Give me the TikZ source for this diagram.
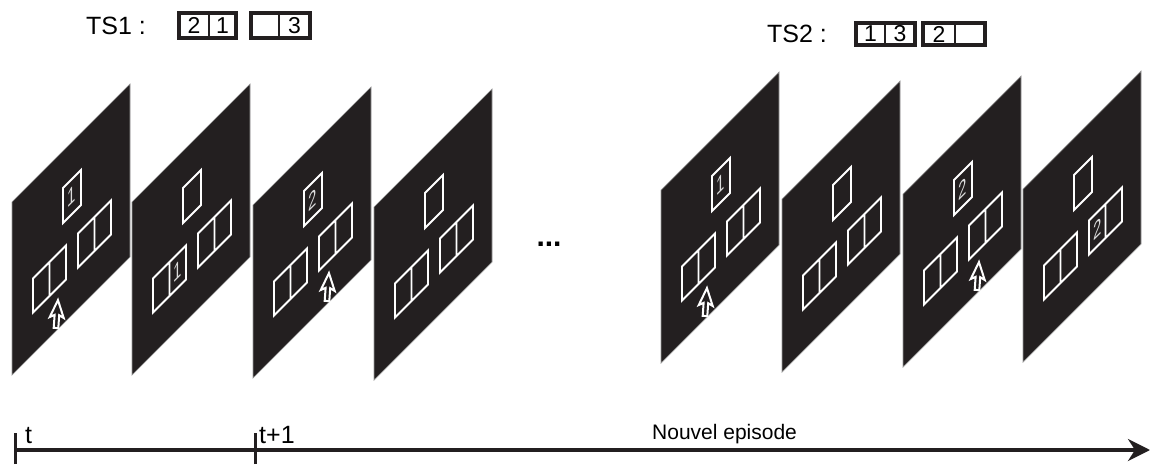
\documentclass[tikz,border=0pt]{standalone}
\usepackage{fontspec}
\setmainfont{Liberation Sans}
\usetikzlibrary{arrows.meta}
\definecolor{panelfill}{HTML}{231F20}
\definecolor{digitgray}{HTML}{DCDCDC}
\tikzset{
  sheet/.style={fill=panelfill, draw=black!40, line width=0.7pt},
  wline/.style={draw=white, line width=1.9pt},
  cursorshape/.style={draw=white, fill=panelfill, line width=2pt, line join=miter},
  pdigit/.style={text=digitgray, font=\fontsize{24}{24}\selectfont, inner sep=0pt, transform shape, xscale=0.62},
  tsbox/.style={draw=panelfill, line width=4pt},
  tsdiv/.style={draw=panelfill, line width=2pt},
  tsdigit/.style={font=\fontsize{23}{23}\selectfont, inner sep=0pt},
  tstitle/.style={font=\fontsize{25}{25}\selectfont, inner sep=0pt, anchor=base west},
  timelbl/.style={font=\fontsize{25}{25}\selectfont, inner sep=0pt, anchor=base west},
  episodelbl/.style={font=\fontsize{21}{21}\selectfont, inner sep=0pt, anchor=base west},
  timeline/.style={draw=panelfill, line width=3.5pt, -{Stealth[length=22pt,width=22pt,inset=7pt]}},
  tickline/.style={draw=panelfill, line width=3pt},
  ellipsisdots/.style={font=\bfseries\fontsize{30}{30}\selectfont, inner sep=0pt},
}
% #1 x0, #2 y0 (pixel, bottom-left corner), #3 extra content in local frame
\newcommand{\Sheet}[3]{%
  \begin{scope}[shift={(#1,464-#2)}, yslant=1]
    \path[sheet] (0,0) -- (118,0) -- (118,173) -- (0,173) -- cycle;
    \path[wline] (51,101) rectangle (69,136);
    \path[wline] (21,41.5) rectangle (54,75.5) (37.5,41.5) -- (37.5,75.5);
    \path[wline] (66,41.5) rectangle (99,75.5) (82.5,41.5) -- (82.5,75.5);
    #3
  \end{scope}}
% cursor arrow at local u = #1
\newcommand{\Cursor}[1]{%
  \begin{scope}[shift={(#1,3)}, yslant=-1, rotate=-4]
    \path[cursorshape] (-2.3,0) -- (-2.3,13) -- (-7,10.5) -- (0,28) -- (7,10.5) -- (2.3,13) -- (2.3,0) -- cycle;
  \end{scope}}
% TS pair: #1 left, #2 divider, #3 right, #4 top Y, #5 bottom Y, #6 left digit, #7 right digit, #8 name
\newcommand{\TSpair}[8]{%
  \path[tsbox] (#1,#4) rectangle (#3,#5);
  \path[tsdiv] (#2,#4) -- (#2,#5);
  \node[tsdigit] (#8a) at ({(#1+#2)/2},{(#4+#5)/2}) {#6};
  \node[tsdigit] (#8b) at ({(#2+#3)/2},{(#4+#5)/2}) {#7};
}
\begin{document}
\begin{tikzpicture}[x=1pt,y=1pt]
\useasboundingbox (0,0) rectangle (1151,464);

% headers
\node[tstitle] (ts1) at (86,429) {TS1 :};
\TSpair{179}{209}{236}{451}{426}{2}{1}{tsA}
\TSpair{251}{279}{310}{451}{426}{}{3}{tsB}
\node[tstitle] (ts2) at (767,421) {TS2 :};
\TSpair{856}{885}{915}{441}{419}{1}{3}{tsC}
\TSpair{923}{955}{985}{441}{419}{2}{}{tsD}

% panels
\Sheet{12}{375}{\node[pdigit] (d1) at (60,118.5) {1}; \Cursor{44}}
\Sheet{132}{375}{\node[pdigit] (d2) at (45.75,58.5) {1};}
\Sheet{253}{378}{\node[pdigit] (d3) at (60,118.5) {2}; \Cursor{74}}
\Sheet{374}{380}{}
\node[ellipsisdots] (dots) at (549,220) {...};
\Sheet{661}{363}{\node[pdigit] (d5) at (60,118.5) {1}; \Cursor{44}}
\Sheet{782}{372}{}
\Sheet{903}{367}{\node[pdigit] (d7) at (60,118.5) {2}; \Cursor{74}}
\Sheet{1023}{362}{\node[pdigit] (d8) at (74.25,58.5) {2};}

% timeline
\coordinate (tA) at (15,14);
\coordinate (tB) at (255,14);
\coordinate (tEnd) at (1150,14);
\coordinate (tAtop) at (15,31);
\coordinate (tAbot) at (15,0);
\coordinate (tBtop) at (255,31);
\coordinate (tBbot) at (255,0);
\draw[timeline] (tA) -- (tEnd);
\draw[tickline] (tAbot) -- (tAtop);
\draw[tickline] (tBbot) -- (tBtop);
\node[timelbl] (lt) at (25,21) {t};
\node[timelbl] (lt1) at (259,21) {t+1};
\node[episodelbl] (lep) at (652,25) {Nouvel episode};
\end{tikzpicture}
\end{document}
